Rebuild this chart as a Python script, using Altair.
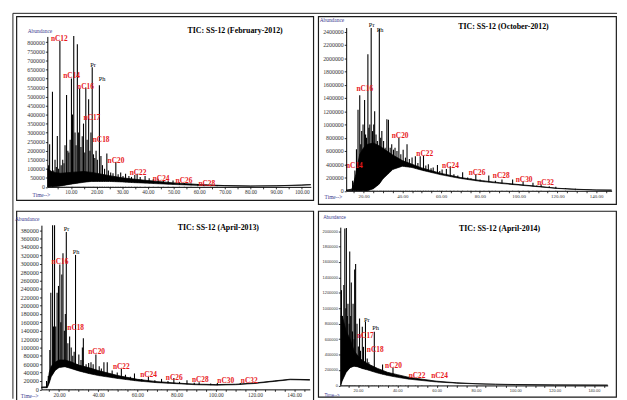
import altair as alt
import pandas as pd

RED = "#e8191c"
BLUE = "#3b3b8f"

# ---------------- Panel 1 : February-2012 ----------------
p1_peaks = [(1.3,120000),(1.7,236000),(2.2,80000),(2.8,526000),(3.3,90000),(3.8,150000),(4.3,110000),
            (4.7,281000),(5.2,100000),(5.7,807000),(6.2,120000),(6.8,150000),(7.3,130000),(7.7,230000),
            (8.3,508000),(8.8,200000),(9.2,190000),(9.7,260000),(10.2,600000),(10.6,400000),(11.1,834000),
            (11.6,300000),(12.0,230000),(12.5,789000),(13.0,300000),(13.4,544000),(13.9,220000),(14.4,280000),
            (14.9,350000),(15.4,190000),(15.8,550000),(16.3,260000),(16.9,485000),(17.4,200000),(17.8,300000),
            (18.3,662000),(18.8,180000),(19.3,160000),(19.8,200000),(20.3,150000),(21.1,562000),(21.7,170000),
            (22.3,120000),(23.1,100000),(24.0,185000),(24.6,90000),(25.5,80000),(26.4,75000),(27.5,138000),
            (28.4,70000),(29.4,80000),(30.3,60000),(31.3,72000),(32.6,60000),(33.6,55000),(34.9,65000),
            (35.8,72000),(37.0,55000),(38.9,60000),(40.5,48000),(42.1,42000),(44.0,45000),(46.0,35000),
            (47.9,33000),(49.8,35000),(52.3,25000),(54.2,22000),(56.8,18000),(59.4,16000),(61.9,13000),
            (64.5,11000),(67.0,9000)]
p1_env_t = [0.8, 3, 6, 10, 15, 18, 20, 25, 30, 35, 40, 50, 60, 70, 80, 90, 100, 103.5]
p1_env_lo = [0, 0, 5000, 15000, 25000, 30000, 30000, 30000, 27000, 23000, 20000, 13000, 8000, 5000, 4000, 5000, 9000, 11000]
p1_env_hi = [100000, 80000, 75000, 80000, 85000, 80000, 75000, 62000, 50000, 42000, 35000, 22000, 13000, 7000, 5000, 6000, 10500, 12500]
p1_labels = [("nC12",2.2,820000),("nC14",7.0,613000),("nC16",12.4,553000),("nC17",14.9,381000),
             ("nC18",18.5,259500),("nC20",24.3,145000),("nC22",32.9,76000),("nC24",41.9,45000),
             ("nC26",50.8,31000),("nC28",59.7,18000)]
p1_marks = [("Pr",17.5,675000),("Ph",20.8,595000)]

# ---------------- Panel 2 : October-2012 ----------------
p2_peaks = [(14.3,150000),(15.5,306000),(16.3,627000),(17.1,1220000),(18.0,1440000),(18.5,700000),
            (19.0,900000),(19.7,1000000),(20.5,1370000),(21.0,850000),(21.5,800000),(22.2,2060000),
            (22.7,950000),(23.2,1000000),(23.9,2455000),(24.6,900000),(25.2,1000000),(25.7,1200000),
            (26.4,850000),(27.1,750000),(28.1,2440000),(28.8,800000),(29.4,900000),(30.3,750000),
            (31.1,650000),(32.0,1080000),(32.8,1070000),(33.7,650000),(34.5,700000),(35.4,620000),
            (36.2,650000),(37.2,600000),(38.2,800000),(39.2,550000),(40.4,620000),(41.6,500000),
            (42.4,700000),(43.6,480000),(45.0,500000),(46.7,520000),(48.0,420000),(49.2,520000),
            (50.9,530000),(52.1,380000),(53.4,400000),(54.8,340000),(55.9,350000),(58.1,390000),
            (59.3,300000),(60.5,320000),(62.7,330000),(64.7,370000),(66.6,250000),(68.6,230000),
            (71.1,280000),(73.7,200000),(75.4,190000),(77.9,250000),(80.1,170000),(82.1,150000),
            (84.6,230000),(86.3,130000),(88.0,150000),(91.4,170000),(93.9,110000),(96.9,170000),
            (99.8,100000),(102.3,140000),(104.9,80000),(107.4,120000),(109.4,80000),(111.6,100000),
            (115.8,70000),(119.2,60000),(124.2,40000),(129.3,30000)]
p2_env_t = [11, 14, 16, 18, 20, 22, 25, 28, 30, 35, 40, 45, 50, 60, 70, 80, 90, 100, 110, 120, 130, 140, 148]
p2_env_lo = [0, 0, 0, 0, 0, 0, 30000, 100000, 180000, 320000, 370000, 350000, 310000,
             240000, 185000, 143000, 112000, 86000, 61000, 35000, 20000, 11000, 9000]
p2_env_hi = [10000, 25000, 250000, 550000, 650000, 700000, 720000, 680000, 640000, 540000, 455000, 400000,
             345000, 262000, 200000, 156000, 123000, 94000, 67000, 38000, 23000, 13000, 11000]
p2_labels = [("nC14",10.9,366000),("nC16",16.3,1530000),("nC20",34.5,825000),("nC22",47.2,553000),
             ("nC24",60.5,380000),("nC26",74.2,272000),("nC28",86.7,222000),("nC30",98.5,168000),
             ("nC32",109.6,114000)]
p2_marks = [("Pr",22.7,2503000),("Ph",26.8,2430000)]

# ---------------- Panel 3 : April-2013 ----------------
p3_peaks = [(13.6,20000),(14.5,32000),(15.3,94000),(15.8,231000),(16.7,392000),(17.2,150000),
            (17.7,392000),(18.3,150000),(19.0,231000),(19.7,247000),(20.4,298000),(20.9,160000),
            (21.4,274000),(22.0,325000),(22.7,140000),(23.2,180000),(23.7,376000),(24.5,110000),
            (25.4,126000),(26.2,100000),(27.0,80000),(27.7,90000),(28.4,321000),(29.2,60000),
            (30.1,83000),(31.2,70000),(31.9,100000),(32.4,122000),(33.8,60000),(35.1,63000),
            (36.3,65000),(37.4,60000),(38.8,83000),(40.5,55000),(41.6,50000),(42.9,65000),
            (44.6,65000),(47.1,45000),(49.7,40000),(51.8,49000),(53.9,35000),(56.4,30000),
            (58.5,38000),(62.2,25000),(65.6,30000),(68.9,22000),(72.3,25000),(75.6,20000),
            (78.6,27000),(81.5,18000),(85.3,22000),(89.0,16000),(91.5,17000),(97.4,14000),
            (100.8,15000),(112.5,15000)]
p3_env_t = [11, 14, 15, 16, 18, 20, 23, 26, 30, 35, 40, 50, 60, 70, 80, 90, 100, 110, 120, 130, 138, 148]
p3_env_lo = [4000, 4000, 15000, 30000, 45000, 52000, 54000, 50000, 44000, 38000, 33000, 26000, 20000,
             16000, 13500, 11000, 10000, 11000, 14000, 19000, 23000, 22000]
p3_env_hi = [5500, 6000, 40000, 55000, 65000, 70000, 70000, 66000, 58000, 52000, 45000, 33000, 24000,
             18500, 15000, 12500, 11500, 12300, 15300, 20300, 24300, 23300]
p3_labels = [("nC16",16.2,304000),("nC18",24.2,146000),("nC20",34.9,88000),("nC22",47.5,53000),
             ("nC24",61.4,34000),("nC26",74.5,26500),("nC28",87.8,22000),("nC30",100.8,20000),
             ("nC32",112.8,19000)]
p3_marks = [("Pr",22.4,383000),("Ph",27.0,329000)]

# ---------------- Panel 4 : April-2014 ----------------
p4_peaks = [(11.6,1235000),(12.1,900000),(12.8,1300000),(13.3,2034000),(13.8,1000000),(14.1,2040000),
            (14.6,900000),(14.9,1057000),(15.5,800000),(15.8,1736000),(16.3,900000),(16.6,1333000),
            (17.2,700000),(17.5,1060000),(18.0,600000),(18.3,1503000),(18.8,1575000),(19.5,800000),
            (20.2,505000),(20.8,866000),(21.3,450000),(22.2,760000),(22.8,500000),(23.8,824000),
            (24.7,350000),(25.5,300000),(26.7,250000),(27.5,200000),(28.3,697000),(29.2,200000),
            (30.5,150000),(31.5,180000),(32.5,271000),(34.2,150000),(35.8,120000),(37.8,229000),
            (39.5,100000),(41.7,90000),(44.2,80000),(45.8,100000),(49.2,70000),(52.5,60000),
            (56.7,50000),(60.8,40000),(65.8,35000),(70.8,30000)]
p4_env_t = [11.2, 12, 14, 16, 18, 20, 22, 25, 30, 35, 40, 45, 50, 60, 70, 80, 90, 100, 120, 147]
p4_env_lo = [0, 60000, 170000, 230000, 250000, 240000, 220000, 200000, 160000, 130000, 105000, 85000,
             70000, 45000, 30000, 20000, 14000, 10000, 6000, 3000]
p4_env_hi = [900000, 900000, 700000, 600000, 450000, 380000, 330000, 280000, 220000, 170000, 140000,
             110000, 90000, 55000, 35000, 23000, 16000, 12000, 7000, 4000]
p4_labels = [("nC17",19.5,646000),("nC18",24.5,455000),("nC20",33.8,251000),("nC22",45.8,123000),
             ("nC24",57.2,123000)]
p4_marks = [("Pr",23.0,845000),("Ph",27.2,739000)]

titles = ["TIC: SS-12  (February-2012)", "TIC: SS-12 (October-2012)",
          "TIC: SS-12 (April-2013)", "TIC: SS-12 (April-2014)"]

y_ticks = [list(range(0, 800001, 50000)), list(range(0, 2400001, 200000)),
           list(range(0, 380001, 20000)), list(range(0, 2000001, 200000))]
x_ticks = [[v for v in range(5, 101, 5)], [v for v in range(15, 146, 5)],
           [v for v in range(15, 146, 5)], [v for v in range(15, 146, 5)]]
x_label_step = [10, 20, 20, 20]

# layout geometry of each panel (frame = view), axes placed inside
geo = [
    dict(w=302, h=187, xd=[0.8, 103.5], xr=[31.5, 299.5], yd=[0, 832000], yr=[173.5, 20.5],
         xo=-13.5, yo=-31.5, title=(222.5, 14.5), abund=(11.5, 14.5), time=(16.5, 181.5),
         font="Liberation Serif", fs=6, xfs=5.5),
    dict(w=303, h=191, xd=[11, 148], xr=[28.5, 298.5], yd=[0, 2460000], yr=[177.5, 11.5],
         xo=-13.5, yo=-28.5, title=(188.5, 10.5), abund=(1.5, 3.5), time=(6.5, 183.5),
         font="Liberation Serif", fs=6, xfs=5),
    dict(w=302, h=195, xd=[11, 148], xr=[25.5, 298.5], yd=[0, 392000], yr=[181.5, 14.5],
         xo=-13.5, yo=-25.5, title=(205.5, 17.5), abund=(-1.5, 8.5), time=(4.5, 188.5),
         font="Liberation Serif", fs=6.3, xfs=5.5),
    dict(w=303, h=189, xd=[11, 147], xr=[22.5, 294.5], yd=[0, 2051000], yr=[177.5, 16.5],
         xo=-11.5, yo=-22.5, title=(184.5, 18.5), abund=(5.5, 7.5), time=(6.5, 188.5),
         font="Liberation Sans", fs=4, xfs=4),
]


def panel(i, peaks, env_t, env_lo, env_hi, labels, marks, outer=False):
    g = geo[i]
    pk = pd.DataFrame(peaks, columns=["t", "h"])
    env = pd.DataFrame({"t": env_t, "lo": env_lo, "hi": env_hi})
    lab = pd.DataFrame(labels, columns=["s", "t", "v"])
    mk = pd.DataFrame(marks, columns=["s", "t", "v"])
    step = x_label_step[i]
    xs = alt.Scale(domain=g["xd"], range=g["xr"], nice=False, zero=False)
    ys = alt.Scale(domain=g["yd"], range=g["yr"], nice=False, zero=False)
    common = dict(grid=False, title=None, domainColor="black", domainWidth=1, tickColor="black",
                  tickWidth=0.8, tickSize=2, labelColor="#333333", labelFont=g["font"],
                  labelOverlap=False, labelPadding=1, zindex=1)
    xax = alt.Axis(values=x_ticks[i], offset=g["xo"], labelFontSize=g["xfs"], labelFlush=False,
                   labelExpr=f"datum.value % {step} == 0 ? format(datum.value, '.2f') : ''", **common)
    yax = alt.Axis(values=y_ticks[i], offset=g["yo"], format="d", labelFontSize=g["fs"], **common)

    def X():
        return alt.X("t:Q", scale=xs, axis=xax)

    def Y(f):
        return alt.Y(f, type="quantitative", scale=ys, axis=yax)

    rules = alt.Chart(pk).mark_rule(color="black", strokeWidth=1.1).encode(x=X(), y=Y("h"), y2=alt.datum(0))
    white = alt.Chart(env).mark_area(color="white", opacity=1).encode(x=X(), y=Y("lo"), y2=alt.datum(0))
    band = alt.Chart(env).mark_area(color="black").encode(x=X(), y=Y("lo"), y2="hi:Q")
    line_hi = alt.Chart(env).mark_line(color="black", strokeWidth=0.8).encode(x=X(), y=Y("hi"))
    line_lo = alt.Chart(env).mark_line(color="black", strokeWidth=0.6).encode(x=X(), y=Y("lo"))
    red = alt.Chart(lab).mark_text(align="left", baseline="middle", font="Liberation Serif",
                                   fontWeight="bold", fontSize=7.5, color=RED).encode(
        x=X(), y=Y("v"), text="s:N")
    blk = alt.Chart(mk).mark_text(align="left", baseline="middle", font="Liberation Serif",
                                  fontSize=6.5, color="black").encode(x=X(), y=Y("v"), text="s:N")
    ttl = alt.Chart(pd.DataFrame({"s": [titles[i]]})).mark_text(
        align="center", baseline="middle", font="Liberation Serif", fontWeight="bold",
        fontSize=8, color="black").encode(x=alt.value(g["title"][0]), y=alt.value(g["title"][1]), text="s:N")
    afs = 4.5 if i == 3 else 5.5
    abund = alt.Chart(pd.DataFrame({"s": ["Abundance"]})).mark_text(
        align="left", baseline="middle", font=g["font"], fontSize=afs, color=BLUE).encode(
        x=alt.value(g["abund"][0]), y=alt.value(g["abund"][1]), text="s:N")
    time = alt.Chart(pd.DataFrame({"s": ["Time-->"]})).mark_text(
        align="left", baseline="middle", font=g["font"], fontSize=afs, color=BLUE).encode(
        x=alt.value(g["time"][0]), y=alt.value(g["time"][1]), text="s:N")
    layers = [rules, white, band, line_hi, line_lo, red, blk, ttl, abund, time]
    if outer:
        one = pd.DataFrame({"k": [0]})
        top = alt.Chart(one).mark_rule(color="#222222", strokeWidth=1).encode(
            x=alt.value(-3.5), x2=alt.value(611), y=alt.value(-3))
        left = alt.Chart(one).mark_rule(color="#222222", strokeWidth=1).encode(
            x=alt.value(-3.5), y=alt.value(-3), y2=alt.value(389))
        layers += [top, left]
    return alt.layer(*layers).properties(width=g["w"], height=g["h"])


c1 = panel(0, p1_peaks, p1_env_t, p1_env_lo, p1_env_hi, p1_labels, p1_marks, outer=True)
c2 = panel(1, p2_peaks, p2_env_t, p2_env_lo, p2_env_hi, p2_labels, p2_marks)
c3 = panel(2, p3_peaks, p3_env_t, p3_env_lo, p3_env_hi, p3_labels, p3_marks)
c4 = panel(3, p4_peaks, p4_env_t, p4_env_lo, p4_env_hi, p4_labels, p4_marks)

chart = alt.concat(c1, c2, c3, c4, columns=2, spacing={"row": 3, "column": 4},
                   bounds="flush", align="all").properties(
    padding={"left": 3.5, "top": 0, "right": 0, "bottom": 0},
    background="white",
).configure_view(stroke="#1a1a1a", strokeWidth=1.2)

chart.save("out.html", embed_options={"renderer": "svg", "actions": False})
